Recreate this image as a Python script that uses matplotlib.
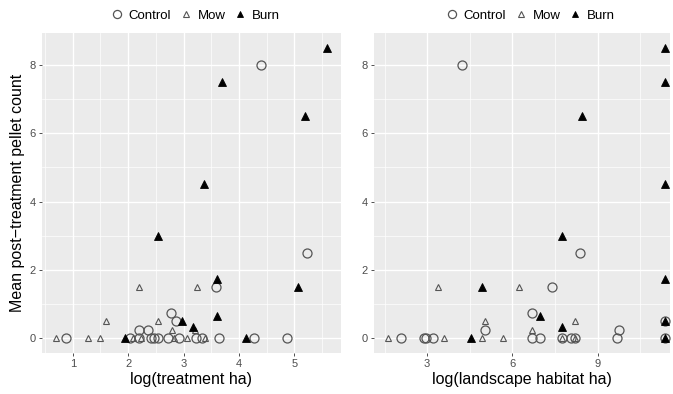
import matplotlib
matplotlib.use("Agg")
import matplotlib.pyplot as plt
from matplotlib.lines import Line2D
import numpy as np

plt.rcParams['font.family'] = ['Liberation Sans', 'DejaVu Sans']

# ---- data: left panel (log treatment ha) ----
L_control_x = [4.40, 5.23, 3.59, 2.77, 2.86, 2.19, 2.35, 0.88, 2.04, 2.19, 2.41, 2.47,
               2.53, 2.71, 2.91, 3.22, 3.34, 3.63, 4.27, 4.86]
L_control_y = [8, 2.5, 1.5, 0.75, 0.5, 0.25, 0.25, 0, 0, 0, 0, 0, 0, 0, 0, 0, 0, 0, 0, 0]
L_mow_x = [2.19, 3.24, 1.60, 2.53, 2.79, 3.21, 0.69, 1.28, 1.50, 2.08, 2.23, 2.82, 3.07, 3.39]
L_mow_y = [1.5, 1.5, 0.5, 0.5, 0.25, 0.25, 0, 0, 0, 0, 0, 0, 0, 0]
L_burn_x = [5.595, 3.695, 5.19, 3.36, 2.53, 3.60, 5.06, 3.60, 2.97, 3.165, 1.94, 4.13]
L_burn_y = [8.5, 7.5, 6.5, 4.5, 3.0, 1.75, 1.5, 0.67, 0.5, 0.33, 0, 0]

# ---- data: right panel (log landscape habitat ha) ----
R_control_x = [4.23, 8.37, 7.41, 6.68, 5.03, 9.77, 11.37, 2.07, 2.89, 2.95, 3.22, 6.68,
               6.97, 7.74, 8.06, 8.21, 9.67, 11.37]
R_control_y = [8, 2.5, 1.5, 0.75, 0.25, 0.25, 0.5, 0, 0, 0, 0, 0, 0, 0, 0, 0, 0, 0]
R_mow_x = [3.37, 6.22, 5.03, 8.21, 6.68, 1.61, 3.59, 4.92, 5.67, 7.74, 8.21]
R_mow_y = [1.5, 1.5, 0.5, 0.5, 0.25, 0, 0, 0, 0, 0, 0]
R_burn_x = [11.37, 11.37, 8.46, 11.37, 7.74, 11.37, 4.93, 6.97, 11.37, 7.74, 4.54, 11.37]
R_burn_y = [8.5, 7.5, 6.5, 4.5, 3.0, 1.75, 1.5, 0.67, 0.5, 0.33, 0, 0]

groups = ["Control", "Mow", "Burn"]
y_ticks = [0, 2, 4, 6, 8]
L_xticks = [1, 2, 3, 4, 5]
R_xticks = [3, 6, 9]

W, H = 673, 394
fig = plt.figure(figsize=(W / 100, H / 100), dpi=100)

def px_axes(x0, y0, x1, y1):
    return fig.add_axes([x0 / W, 1 - y1 / H, (x1 - x0) / W, (y1 - y0) / H])

styles = {
    "Control": dict(marker="o", ms=6.5, mfc="none", mec="#555555", mew=0.9),
    "Mow": dict(marker="^", ms=5.0, mfc="none", mec="#555555", mew=0.8),
    "Burn": dict(marker="^", ms=5.4, mfc="black", mec="black", mew=0.6),
}

def style_ax(ax, xlim, xticks, xminor, xlabel):
    ax.set_facecolor("#EBEBEB")
    ax.set_xlim(*xlim)
    ax.set_ylim(-0.425, 8.925)
    ax.set_xticks(xticks)
    ax.set_xticks(xminor, minor=True)
    ax.set_yticks(y_ticks)
    ax.set_yticks([1, 3, 5, 7], minor=True)
    ax.grid(which="major", color="white", lw=1.0)
    ax.grid(which="minor", color="white", lw=0.5)
    ax.set_axisbelow(True)
    for s in ax.spines.values():
        s.set_visible(False)
    ax.tick_params(which="major", length=2.5, width=0.6, color="#333333",
                   labelsize=8, labelcolor="#4D4D4D", pad=2)
    ax.tick_params(which="minor", length=0)
    ax.set_xlabel(xlabel, fontsize=11.5, color="black", labelpad=2)

axL = px_axes(42, 33, 341, 353)
axR = px_axes(374, 33, 670, 353)

for ax, data in [(axL, [(L_control_x, L_control_y), (L_mow_x, L_mow_y), (L_burn_x, L_burn_y)]),
                 (axR, [(R_control_x, R_control_y), (R_mow_x, R_mow_y), (R_burn_x, R_burn_y)])]:
    for g, (xs, ys) in zip(groups, data):
        ax.plot(xs, ys, ls="none", **styles[g])

style_ax(axL, (0.445, 5.84), L_xticks, [0.5, 1.5, 2.5, 3.5, 4.5, 5.5], "log(treatment ha)")
style_ax(axR, (1.13, 11.55), R_xticks, [1.5, 4.5, 7.5, 10.5], "log(landscape habitat ha)")
axL.set_ylabel("Mean post\u2212treatment pellet count", fontsize=11.5, labelpad=3)

handles = [Line2D([], [], ls="none", **dict(styles[g], ms=styles[g]["ms"] * 0.9)) for g in groups]
for cx in [195, 530]:
    fig.legend(handles, groups, loc="center", bbox_to_anchor=(cx / W, 1 - 16 / H),
               ncol=3, frameon=False, fontsize=9.5, handlelength=1.0, handletextpad=0.4,
               columnspacing=0.6)

fig.savefig("out.png", dpi=100)
